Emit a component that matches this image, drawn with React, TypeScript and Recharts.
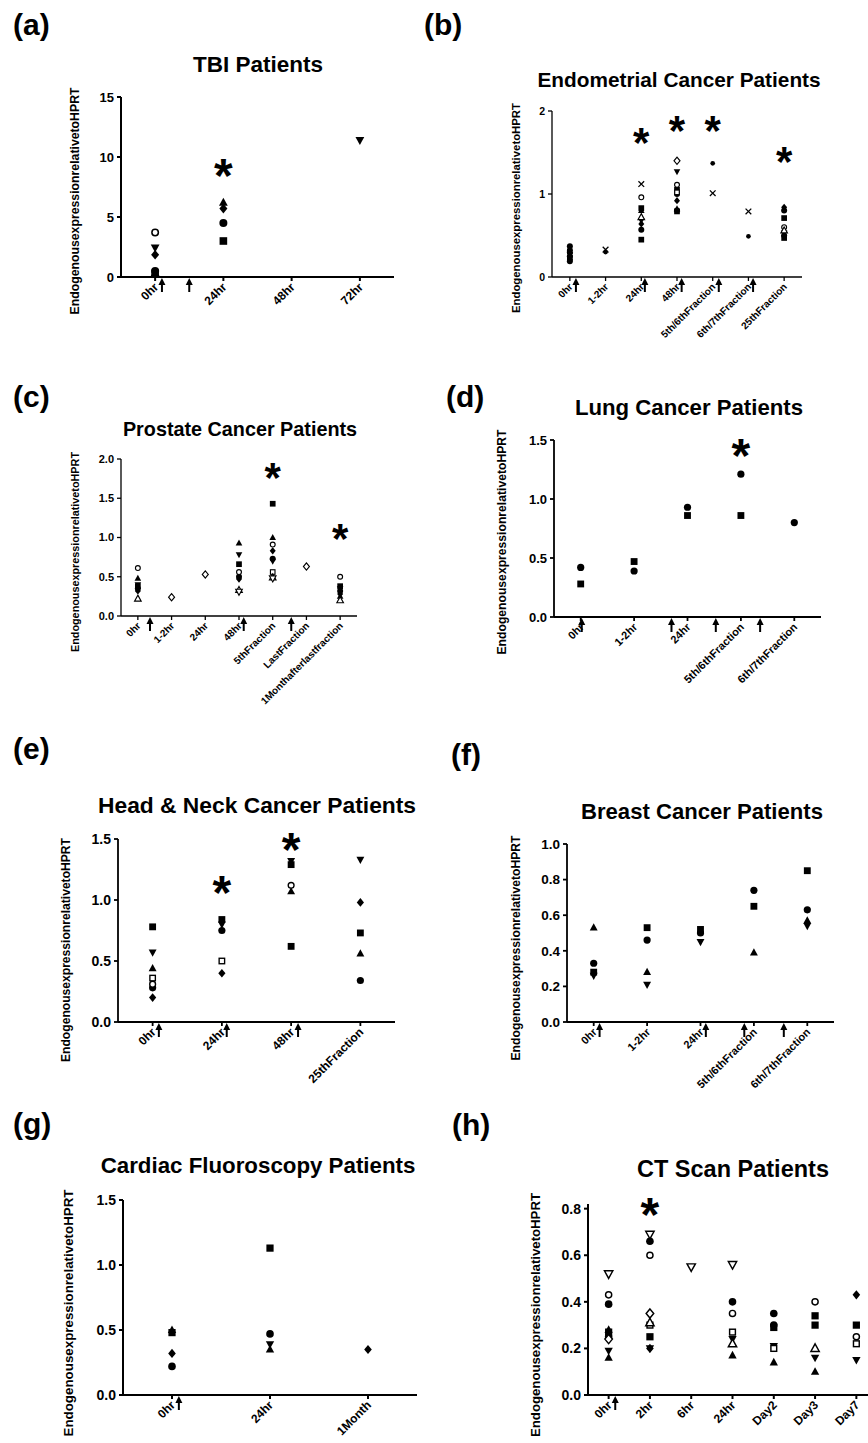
import React from 'react';
import { ScatterChart, Scatter, XAxis, YAxis } from 'recharts';

type Shape =
    | 'circle' | 'square' | 'triangle' | 'down' | 'diamond' | 'dot' | 'cross'
    | 'oCircle' | 'oSquare' | 'oTriangle' | 'oDown' | 'oDiamond';
type Pt = [string, Shape, number];
type Star = [string, number];

const FONT = "'Liberation Sans', Arial, sans-serif";
const Y_LABEL = 'EndogenousexpressionrelativetoHPRT';

// (a) TBI
const tbiCats = ['0hr', '24hr', '48hr', '72hr'];
const tbiPoints: Pt[] = [
    ['0hr', 'oCircle', 3.7], ['0hr', 'down', 2.45], ['0hr', 'diamond', 1.85], ['0hr', 'circle', 0.5],
    ['0hr', 'triangle', 0.35], ['0hr', 'square', 0.3],
    ['24hr', 'triangle', 6.2], ['24hr', 'diamond', 5.7], ['24hr', 'circle', 4.5], ['24hr', 'square', 3.0],
    ['72hr', 'down', 11.4],
];
const tbiStars: Star[] = [['24hr', 9.3]];
const tbiArrows = [0.1, 0.5];

// (b) Endometrial
const endoCats = ['0hr', '1-2hr', '24hr', '48hr', '5th/6thFraction', '6th/7thFraction', '25thFraction'];
const endoPoints: Pt[] = [
    ['0hr', 'circle', 0.37], ['0hr', 'triangle', 0.34], ['0hr', 'square', 0.31], ['0hr', 'diamond', 0.29],
    ['0hr', 'down', 0.27], ['0hr', 'circle', 0.25], ['0hr', 'square', 0.23], ['0hr', 'diamond', 0.21],
    ['0hr', 'circle', 0.19], ['0hr', 'dot', 0.3],
    ['1-2hr', 'cross', 0.33], ['1-2hr', 'dot', 0.3],
    ['24hr', 'cross', 1.12], ['24hr', 'oCircle', 0.96], ['24hr', 'square', 0.83], ['24hr', 'triangle', 0.8],
    ['24hr', 'oTriangle', 0.72], ['24hr', 'down', 0.68], ['24hr', 'diamond', 0.64], ['24hr', 'circle', 0.57],
    ['24hr', 'square', 0.45],
    ['48hr', 'oDiamond', 1.4], ['48hr', 'down', 1.27], ['48hr', 'oCircle', 1.11], ['48hr', 'square', 1.05],
    ['48hr', 'oSquare', 1.02], ['48hr', 'circle', 1.0], ['48hr', 'diamond', 0.92], ['48hr', 'triangle', 0.82],
    ['48hr', 'circle', 0.8], ['48hr', 'square', 0.79],
    ['5th/6thFraction', 'dot', 1.37], ['5th/6thFraction', 'cross', 1.01],
    ['6th/7thFraction', 'cross', 0.79], ['6th/7thFraction', 'dot', 0.49],
    ['25thFraction', 'diamond', 0.84], ['25thFraction', 'circle', 0.8], ['25thFraction', 'square', 0.71],
    ['25thFraction', 'oCircle', 0.6], ['25thFraction', 'oTriangle', 0.56], ['25thFraction', 'down', 0.53],
    ['25thFraction', 'circle', 0.5], ['25thFraction', 'square', 0.47],
];
const endoStars: Star[] = [['24hr', 1.73], ['48hr', 1.87], ['5th/6thFraction', 1.87], ['25thFraction', 1.5]];
const endoArrows = [0.17, 2.1, 3.13, 4.17, 5.13];

// (c) Prostate
const prosCats = ['0hr', '1-2hr', '24hr', '48hr', '5thFraction', 'LastFraction', '1Monthafterlastfraction'];
const prosPoints: Pt[] = [
    ['0hr', 'oCircle', 0.61], ['0hr', 'triangle', 0.48], ['0hr', 'down', 0.4], ['0hr', 'square', 0.38],
    ['0hr', 'circle', 0.35], ['0hr', 'diamond', 0.32], ['0hr', 'oTriangle', 0.22],
    ['1-2hr', 'oDiamond', 0.24],
    ['24hr', 'oDiamond', 0.53],
    ['48hr', 'triangle', 0.93], ['48hr', 'down', 0.78], ['48hr', 'square', 0.66], ['48hr', 'oCircle', 0.56],
    ['48hr', 'circle', 0.5], ['48hr', 'diamond', 0.47], ['48hr', 'oTriangle', 0.33], ['48hr', 'oDown', 0.31],
    ['5thFraction', 'square', 1.43], ['5thFraction', 'triangle', 1.0], ['5thFraction', 'oCircle', 0.91],
    ['5thFraction', 'diamond', 0.83], ['5thFraction', 'circle', 0.73], ['5thFraction', 'down', 0.7],
    ['5thFraction', 'oSquare', 0.56], ['5thFraction', 'oTriangle', 0.49], ['5thFraction', 'oDown', 0.48],
    ['LastFraction', 'oDiamond', 0.63],
    ['1Monthafterlastfraction', 'oCircle', 0.5], ['1Monthafterlastfraction', 'square', 0.38],
    ['1Monthafterlastfraction', 'down', 0.35], ['1Monthafterlastfraction', 'circle', 0.32],
    ['1Monthafterlastfraction', 'diamond', 0.28], ['1Monthafterlastfraction', 'triangle', 0.25],
    ['1Monthafterlastfraction', 'oTriangle', 0.2],
];
const prosStars: Star[] = [['5thFraction', 1.88], ['1Monthafterlastfraction', 1.1]];
const prosArrows = [0.36, 3.14, 4.55];

// (d) Lung
const lungCats = ['0hr', '1-2hr', '24hr', '5th/6thFraction', '6th/7thFraction'];
const lungPoints: Pt[] = [
    ['0hr', 'circle', 0.42], ['0hr', 'square', 0.28],
    ['1-2hr', 'square', 0.47], ['1-2hr', 'circle', 0.39],
    ['24hr', 'circle', 0.93], ['24hr', 'square', 0.86],
    ['5th/6thFraction', 'circle', 1.21], ['5th/6thFraction', 'square', 0.86],
    ['6th/7thFraction', 'circle', 0.8],
];
const lungStars: Star[] = [['5th/6thFraction', 1.46]];
const lungArrows = [0.02, 1.7, 2.53, 3.36];

// (e) Head & Neck
const hnCats = ['0hr', '24hr', '48hr', '25thFraction'];
const hnPoints: Pt[] = [
    ['0hr', 'square', 0.78], ['0hr', 'down', 0.57], ['0hr', 'triangle', 0.44], ['0hr', 'oSquare', 0.36],
    ['0hr', 'oCircle', 0.31], ['0hr', 'circle', 0.28], ['0hr', 'diamond', 0.2],
    ['24hr', 'square', 0.84], ['24hr', 'down', 0.8], ['24hr', 'circle', 0.75], ['24hr', 'oSquare', 0.5],
    ['24hr', 'diamond', 0.4],
    ['48hr', 'down', 1.32], ['48hr', 'square', 1.29], ['48hr', 'oCircle', 1.12], ['48hr', 'triangle', 1.07],
    ['48hr', 'square', 0.62],
    ['25thFraction', 'down', 1.33], ['25thFraction', 'diamond', 0.98], ['25thFraction', 'square', 0.73],
    ['25thFraction', 'triangle', 0.56], ['25thFraction', 'circle', 0.34],
];
const hnStars: Star[] = [['24hr', 1.15], ['48hr', 1.5]];
const hnArrows = [0.09, 1.07, 2.1];

// (f) Breast
const brCats = ['0hr', '1-2hr', '24hr', '5th/6thFraction', '6th/7thFraction'];
const brPoints: Pt[] = [
    ['0hr', 'triangle', 0.53], ['0hr', 'circle', 0.33], ['0hr', 'square', 0.28], ['0hr', 'down', 0.26],
    ['1-2hr', 'square', 0.53], ['1-2hr', 'circle', 0.46], ['1-2hr', 'triangle', 0.28], ['1-2hr', 'down', 0.21],
    ['24hr', 'square', 0.52], ['24hr', 'circle', 0.5], ['24hr', 'down', 0.45],
    ['5th/6thFraction', 'circle', 0.74], ['5th/6thFraction', 'square', 0.65], ['5th/6thFraction', 'triangle', 0.39],
    ['6th/7thFraction', 'square', 0.85], ['6th/7thFraction', 'circle', 0.63], ['6th/7thFraction', 'triangle', 0.57],
    ['6th/7thFraction', 'down', 0.54],
];
const brStars: Star[] = [];
const brArrows = [0.11, 2.1, 2.82, 3.56];

// (g) Cardiac fluoroscopy
const cfCats = ['0hr', '24hr', '1Month'];
const cfPoints: Pt[] = [
    ['0hr', 'triangle', 0.5], ['0hr', 'square', 0.48], ['0hr', 'diamond', 0.32], ['0hr', 'circle', 0.22],
    ['24hr', 'square', 1.13], ['24hr', 'circle', 0.47], ['24hr', 'down', 0.39], ['24hr', 'triangle', 0.35],
    ['1Month', 'diamond', 0.35],
];
const cfStars: Star[] = [];
const cfArrows = [0.07];

// (h) CT scan
const ctCats = ['0hr', '2hr', '6hr', '24hr', 'Day2', 'Day3', 'Day7'];
const ctPoints: Pt[] = [
    ['0hr', 'oDown', 0.52], ['0hr', 'oCircle', 0.43], ['0hr', 'circle', 0.39], ['0hr', 'triangle', 0.28],
    ['0hr', 'square', 0.27], ['0hr', 'circle', 0.25], ['0hr', 'oDiamond', 0.24], ['0hr', 'down', 0.19],
    ['0hr', 'triangle', 0.16],
    ['2hr', 'oDown', 0.69], ['2hr', 'circle', 0.66], ['2hr', 'oCircle', 0.6], ['2hr', 'oDiamond', 0.35],
    ['2hr', 'oTriangle', 0.31], ['2hr', 'oSquare', 0.3], ['2hr', 'square', 0.25], ['2hr', 'down', 0.2],
    ['2hr', 'diamond', 0.2],
    ['6hr', 'oDown', 0.55],
    ['24hr', 'oDown', 0.56], ['24hr', 'circle', 0.4], ['24hr', 'oCircle', 0.35], ['24hr', 'oSquare', 0.27],
    ['24hr', 'down', 0.24], ['24hr', 'oTriangle', 0.22], ['24hr', 'triangle', 0.17],
    ['Day2', 'circle', 0.35], ['Day2', 'circle', 0.3], ['Day2', 'square', 0.29], ['Day2', 'down', 0.21],
    ['Day2', 'oSquare', 0.2], ['Day2', 'triangle', 0.14],
    ['Day3', 'oCircle', 0.4], ['Day3', 'square', 0.34], ['Day3', 'square', 0.3], ['Day3', 'oTriangle', 0.2],
    ['Day3', 'down', 0.16], ['Day3', 'triangle', 0.1],
    ['Day7', 'diamond', 0.43], ['Day7', 'square', 0.3], ['Day7', 'oCircle', 0.25], ['Day7', 'oSquare', 0.22],
    ['Day7', 'down', 0.15],
];
const ctStars: Star[] = [['2hr', 0.82]];
const ctArrows = [0.16];

interface Geo {
    axisX: number; xRight: number; yTop: number; y0: number;
    yMax: number; yTicks: number[]; dec: number;
    lw: number; r: number; tickFs: number; catFs: number; starFs: number;
    letter: [number, number]; title: [number, number, number]; ylab: [number, number, number];
}

const geoA: Geo = { axisX: 121, xRight: 394, yTop: 97, y0: 277, yMax: 15, yTicks: [0, 5, 10, 15], dec: 0, lw: 2, r: 4, tickFs: 13, catFs: 12, starFs: 48, letter: [13, 33], title: [258, 72, 22.5], ylab: [75, 201, 227] };
const geoB: Geo = { axisX: 552, xRight: 802, yTop: 111, y0: 277, yMax: 2, yTicks: [0, 1, 2], dec: 0, lw: 1.3, r: 3, tickFs: 10.5, catFs: 10, starFs: 42, letter: [424, 33], title: [679, 87, 20.8], ylab: [516, 208, 210] };
const geoC: Geo = { axisX: 121, xRight: 357, yTop: 459, y0: 616, yMax: 2, yTicks: [0, 0.5, 1, 1.5, 2], dec: 1, lw: 1.3, r: 3, tickFs: 11, catFs: 10, starFs: 42, letter: [13, 405], title: [240, 436, 19.8], ylab: [75, 552, 200] };
const geoD: Geo = { axisX: 554, xRight: 821, yTop: 440, y0: 617, yMax: 1.5, yTicks: [0, 0.5, 1, 1.5], dec: 1, lw: 1.8, r: 3.6, tickFs: 13, catFs: 11, starFs: 48, letter: [446, 405], title: [689, 415, 22.2], ylab: [502, 542, 225] };
const geoE: Geo = { axisX: 118, xRight: 395, yTop: 839, y0: 1022, yMax: 1.5, yTicks: [0, 0.5, 1, 1.5], dec: 1, lw: 1.8, r: 3.6, tickFs: 14, catFs: 12, starFs: 48, letter: [13, 757], title: [257, 813, 22.8], ylab: [66, 950, 224] };
const geoF: Geo = { axisX: 567, xRight: 834, yTop: 844, y0: 1022, yMax: 1, yTicks: [0, 0.2, 0.4, 0.6, 0.8, 1], dec: 1, lw: 1.8, r: 3.6, tickFs: 13.5, catFs: 11, starFs: 48, letter: [451, 763], title: [702, 819, 22.1], ylab: [516, 948, 225] };
const geoG: Geo = { axisX: 123, xRight: 417, yTop: 1200, y0: 1395, yMax: 1.5, yTicks: [0, 0.5, 1, 1.5], dec: 1, lw: 2, r: 3.8, tickFs: 14, catFs: 12, starFs: 48, letter: [13, 1132], title: [258, 1173, 22.3], ylab: [68, 1313, 247] };
const geoH: Geo = { axisX: 588, xRight: 877, yTop: 1204, y0: 1395, yMax: 0.8, yTicks: [0, 0.2, 0.4, 0.6, 0.8], dec: 1, lw: 2, r: 3.8, tickFs: 14, catFs: 12, starFs: 48, letter: [452, 1133], title: [733, 1177, 23.5], ylab: [535, 1315, 244] };

const SHAPE_ORDER: Shape[] = [
    'circle', 'square', 'triangle', 'down', 'diamond', 'dot', 'cross',
    'oCircle', 'oSquare', 'oTriangle', 'oDown', 'oDiamond',
];

function marker(shape: Shape, cx: number, cy: number, r: number) {
    const k = '#000';
    const sw = Math.max(1.1, r * 0.38);
    switch (shape) {
        case 'circle':
            return <circle cx={cx} cy={cy} r={r} fill={k} />;
        case 'dot':
            return <circle cx={cx} cy={cy} r={r * 0.78} fill={k} />;
        case 'oCircle':
            return <circle cx={cx} cy={cy} r={r - sw / 2} fill="#fff" stroke={k} strokeWidth={sw} />;
        case 'square':
            return <rect x={cx - r * 0.95} y={cy - r * 0.95} width={r * 1.9} height={r * 1.9} fill={k} />;
        case 'oSquare': {
            const h = r * 0.95 - sw / 2;
            return <rect x={cx - h} y={cy - h} width={h * 2} height={h * 2} fill="#fff" stroke={k} strokeWidth={sw} />;
        }
        case 'triangle':
        case 'oTriangle': {
            const pts = `${cx},${cy - r * 1.2} ${cx + r * 1.1},${cy + r * 0.8} ${cx - r * 1.1},${cy + r * 0.8}`;
            return shape === 'triangle'
                ? <polygon points={pts} fill={k} />
                : <polygon points={pts} fill="#fff" stroke={k} strokeWidth={sw} />;
        }
        case 'down':
        case 'oDown': {
            const pts = `${cx},${cy + r * 1.2} ${cx + r * 1.1},${cy - r * 0.8} ${cx - r * 1.1},${cy - r * 0.8}`;
            return shape === 'down'
                ? <polygon points={pts} fill={k} />
                : <polygon points={pts} fill="#fff" stroke={k} strokeWidth={sw} />;
        }
        case 'diamond':
        case 'oDiamond': {
            const pts = `${cx},${cy - r * 1.2} ${cx + r},${cy} ${cx},${cy + r * 1.2} ${cx - r},${cy}`;
            return shape === 'diamond'
                ? <polygon points={pts} fill={k} />
                : <polygon points={pts} fill="#fff" stroke={k} strokeWidth={sw} />;
        }
        case 'cross': {
            const d = r * 0.95;
            return (
                <g stroke={k} strokeWidth={sw * 1.1}>
                    <line x1={cx - d} y1={cy - d} x2={cx + d} y2={cy + d} />
                    <line x1={cx - d} y1={cy + d} x2={cx + d} y2={cy - d} />
                </g>
            );
        }
    }
    return <g />;
}

interface PanelProps {
    g: Geo;
    cats: string[];
    points: Pt[];
    stars: Star[];
    arrows: number[];
}

function Panel({ g, cats, points, stars, arrows }: PanelProps) {
    const yW = 50, mTop = 30, mRight = 10, xH = 120;
    const width = g.xRight - g.axisX + yW + mRight;
    const height = g.y0 - g.yTop + mTop + xH;
    const idx = (c: string) => cats.indexOf(c);

    const series = SHAPE_ORDER
        .map(s => ({ s, data: points.filter(p => p[1] === s).map(p => ({ x: idx(p[0]), y: p[2] })) }))
        .filter(d => d.data.length > 0);
    const starData = stars.map(([c, v]) => ({ x: idx(c), y: v }));
    const arrowData = arrows.map(a => ({ x: a, y: 0 }));
    const line = { stroke: '#000', strokeWidth: g.lw };

    return (
        <div style={{ position: 'absolute', left: g.axisX - yW, top: g.yTop - mTop }}>
            <ScatterChart width={width} height={height} margin={{ top: mTop, right: mRight, left: 0, bottom: 0 }}>
                <XAxis
                    type="number"
                    dataKey="x"
                    domain={[-0.5, cats.length - 0.5]}
                    ticks={cats.map((_, i) => i)}
                    interval={0}
                    height={xH}
                    axisLine={line}
                    tickLine={line}
                    tickSize={4}
                    tick={(p: any) => {
                        const x = p.x + 1, y = p.y + 2;
                        return (
                            <text
                                x={x} y={y}
                                textAnchor="end"
                                dominantBaseline="central"
                                transform={`rotate(-45, ${x}, ${y})`}
                                fontSize={g.catFs}
                                fontWeight="bold"
                                fontFamily={FONT}
                                fill="#000"
                            >
                                {cats[p.payload.value]}
                            </text>
                        );
                    }}
                />
                <YAxis
                    type="number"
                    dataKey="y"
                    domain={[0, g.yMax]}
                    ticks={g.yTicks}
                    interval={0}
                    width={yW}
                    axisLine={line}
                    tickLine={line}
                    tickSize={4}
                    tickMargin={3}
                    tickFormatter={(v: number) => v.toFixed(g.dec)}
                    tick={{ fontSize: g.tickFs, fontWeight: 'bold', fill: '#000', fontFamily: FONT }}
                />
                {series.map(({ s, data }) => (
                    <Scatter
                        key={s}
                        data={data}
                        isAnimationActive={false}
                        shape={(p: any) => marker(s, p.cx, p.cy, g.r)}
                    />
                ))}
                <Scatter
                    data={starData}
                    isAnimationActive={false}
                    shape={(p: any) => (
                        <text
                            x={p.cx} y={p.cy + g.starFs * 0.56}
                            textAnchor="middle"
                            fontSize={g.starFs}
                            fontWeight="bold"
                            fontFamily={FONT}
                            fill="#000"
                        >
                            *
                        </text>
                    )}
                />
                <Scatter
                    data={arrowData}
                    isAnimationActive={false}
                    shape={(p: any) => (
                        <g>
                            <line x1={p.cx} y1={p.cy + 6} x2={p.cx} y2={p.cy + 15} stroke="#000" strokeWidth={2} />
                            <polygon
                                points={`${p.cx},${p.cy + 1} ${p.cx - 3.5},${p.cy + 8} ${p.cx + 3.5},${p.cy + 8}`}
                                fill="#000"
                            />
                        </g>
                    )}
                />
            </ScatterChart>
        </div>
    );
}

const panels: { key: string; letter: string; title: string; g: Geo; cats: string[]; points: Pt[]; stars: Star[]; arrows: number[] }[] = [
    { key: 'a', letter: '(a)', title: 'TBI Patients', g: geoA, cats: tbiCats, points: tbiPoints, stars: tbiStars, arrows: tbiArrows },
    { key: 'b', letter: '(b)', title: 'Endometrial Cancer Patients', g: geoB, cats: endoCats, points: endoPoints, stars: endoStars, arrows: endoArrows },
    { key: 'c', letter: '(c)', title: 'Prostate Cancer Patients', g: geoC, cats: prosCats, points: prosPoints, stars: prosStars, arrows: prosArrows },
    { key: 'd', letter: '(d)', title: 'Lung Cancer Patients', g: geoD, cats: lungCats, points: lungPoints, stars: lungStars, arrows: lungArrows },
    { key: 'e', letter: '(e)', title: 'Head & Neck Cancer Patients', g: geoE, cats: hnCats, points: hnPoints, stars: hnStars, arrows: hnArrows },
    { key: 'f', letter: '(f)', title: 'Breast Cancer Patients', g: geoF, cats: brCats, points: brPoints, stars: brStars, arrows: brArrows },
    { key: 'g', letter: '(g)', title: 'Cardiac Fluoroscopy Patients', g: geoG, cats: cfCats, points: cfPoints, stars: cfStars, arrows: cfArrows },
    { key: 'h', letter: '(h)', title: 'CT Scan Patients', g: geoH, cats: ctCats, points: ctPoints, stars: ctStars, arrows: ctArrows },
];

export default function App() {
    return (
        <div style={{ position: 'absolute', left: 0, top: 0, width: 868, height: 1443, overflow: 'hidden', background: '#fff' }}>
            {panels.map(p => (
                <Panel key={p.key} g={p.g} cats={p.cats} points={p.points} stars={p.stars} arrows={p.arrows} />
            ))}
            <svg width={868} height={1443} style={{ position: 'absolute', left: 0, top: 0, pointerEvents: 'none' }}>
                {panels.map(p => {
                    const [lx, ly] = p.g.letter;
                    const [tx, ty, tfs] = p.g.title;
                    const [yx, yy, ylen] = p.g.ylab;
                    return (
                        <g key={p.key} fontFamily={FONT} fontWeight="bold" fill="#000">
                            <text x={lx} y={ly + 2} fontSize={30}>{p.letter}</text>
                            <text x={tx} y={ty} fontSize={tfs} textAnchor="middle">{p.title}</text>
                            <text
                                x={yx} y={yy}
                                fontSize={ylen / 18.5}
                                textAnchor="middle"
                                dominantBaseline="central"
                                textLength={ylen}
                                lengthAdjust="spacingAndGlyphs"
                                transform={`rotate(-90, ${yx}, ${yy})`}
                            >
                                {Y_LABEL}
                            </text>
                        </g>
                    );
                })}
            </svg>
        </div>
    );
}
